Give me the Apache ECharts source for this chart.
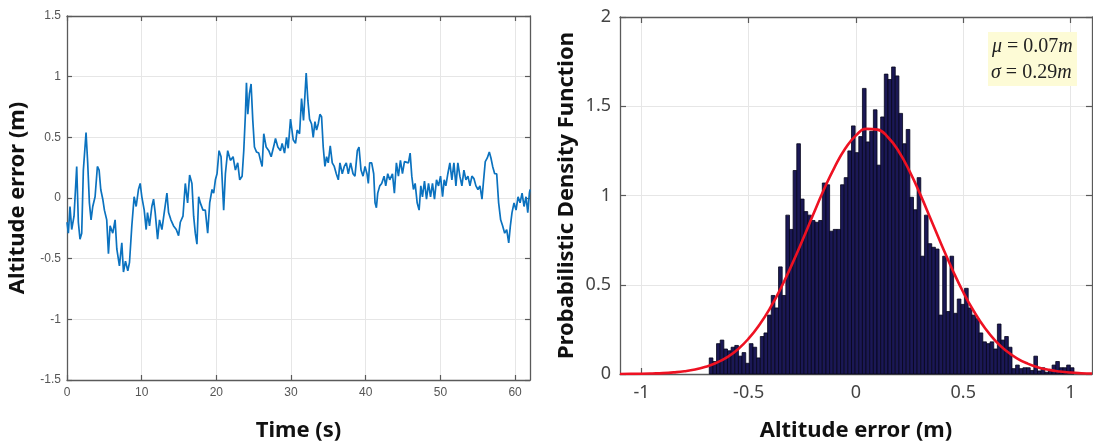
<!DOCTYPE html>
<html>
<head>
<meta charset="utf-8">
<title>Altitude error</title>
<script src="https://cdn.jsdelivr.net/npm/echarts@6/dist/echarts.min.js"></script>
<style>
  html, body { margin: 0; padding: 0; background: #ffffff; }
  #chart { width: 1093px; height: 447px; }
</style>
</head>
<body>
<div id="chart"></div>
<script>
// Altitude error over time (s)
const timeS = [
  0.00, 0.18, 0.40, 0.63, 0.94, 1.30, 1.52, 1.74, 1.97, 2.19, 2.55, 2.77, 3.00, 3.22, 3.45, 3.76,
  4.07, 4.30, 4.52, 4.79, 5.01, 5.32, 5.55, 5.77, 6.13, 6.44, 6.67, 7.02, 7.34, 7.56, 7.83, 8.14,
  8.37, 8.68, 8.99, 9.26, 9.57, 9.80, 10.02, 10.34, 10.60, 10.78, 11.05, 11.36, 11.59, 11.81, 12.13, 12.39,
  12.71, 13.02, 13.38, 13.60, 13.91, 14.27, 14.63, 14.94, 15.17, 15.53, 15.84, 16.15, 16.42, 16.73, 16.96, 17.18,
  17.40, 17.63, 17.85, 18.21, 18.52, 18.84, 19.11, 19.42, 19.64, 19.87, 20.09, 20.36, 20.63, 20.98, 21.21, 21.52,
  21.88, 22.24, 22.55, 22.86, 23.13, 23.45, 23.67, 23.89, 24.03, 24.21, 24.43, 24.65, 24.88, 25.10, 25.37, 25.68,
  25.91, 26.13, 26.35, 26.67, 27.02, 27.34, 27.70, 27.92, 28.23, 28.59, 28.81, 29.13, 29.40, 29.62, 29.93, 30.29,
  30.60, 30.82, 31.14, 31.41, 31.67, 32.03, 32.26, 32.48, 32.75, 32.97, 33.20, 33.42, 33.64, 33.87, 34.09, 34.31,
  34.54, 34.76, 34.98, 35.25, 35.52, 35.79, 36.06, 36.33, 36.55, 36.86, 37.13, 37.40, 37.67, 37.98, 38.30, 38.56,
  38.88, 39.10, 39.37, 39.64, 39.91, 40.17, 40.35, 40.53, 40.80, 41.07, 41.25, 41.43, 41.61, 41.88, 42.14, 42.46,
  42.68, 42.95, 43.22, 43.58, 43.84, 44.11, 44.38, 44.65, 44.92, 45.19, 45.45, 45.72, 45.95, 46.17, 46.39, 46.62,
  46.89, 47.15, 47.38, 47.60, 47.87, 48.14, 48.41, 48.68, 48.94, 49.21, 49.48, 49.75, 50.02, 50.29, 50.51, 50.73,
  51.00, 51.27, 51.54, 51.81, 52.08, 52.34, 52.61, 52.88, 53.15, 53.42, 53.69, 53.96, 54.22, 54.49, 54.76, 55.03,
  55.30, 55.57, 55.79, 56.01, 56.28, 56.55, 56.77, 57.00, 57.27, 57.54, 57.80, 58.07, 58.34, 58.61, 58.88, 59.15,
  59.37, 59.59, 59.86, 60.13, 60.40, 60.67, 60.94, 61.20, 61.47, 61.70, 61.92, 62.00
];
const altError = [
  -0.20, -0.29, -0.07, -0.26, -0.15, 0.26, -0.20, -0.34, -0.29, 0.23, 0.54, 0.29, -0.04, -0.18, -0.07, 0.01,
  0.26, 0.23, 0.07, -0.01, -0.10, -0.18, -0.46, -0.23, -0.29, -0.18, -0.42, -0.56, -0.37, -0.61, -0.52, -0.60,
  -0.53, -0.23, 0.01, -0.07, 0.07, 0.12, 0.01, -0.10, -0.26, -0.12, -0.23, -0.07, -0.01, -0.12, -0.34, -0.18,
  -0.26, -0.12, 0.04, -0.12, -0.18, -0.23, -0.26, -0.31, -0.20, -0.15, 0.12, -0.04, 0.19, 0.12, -0.15, -0.29,
  -0.38, 0.01, -0.04, -0.10, -0.10, -0.29, -0.04, 0.07, 0.04, 0.15, 0.20, 0.39, 0.34, -0.10, 0.20, 0.39,
  0.31, 0.34, 0.23, 0.29, 0.15, 0.18, 0.39, 0.69, 0.95, 0.69, 0.86, 0.94, 0.64, 0.42, 0.38, 0.37,
  0.31, 0.26, 0.53, 0.42, 0.39, 0.34, 0.43, 0.49, 0.42, 0.39, 0.45, 0.37, 0.50, 0.41, 0.65, 0.48,
  0.45, 0.56, 0.53, 0.82, 0.64, 1.03, 0.80, 0.65, 0.61, 0.50, 0.63, 0.56, 0.61, 0.69, 0.67, 0.42,
  0.26, 0.34, 0.29, 0.43, 0.29, 0.26, 0.20, 0.15, 0.29, 0.20, 0.26, 0.29, 0.20, 0.29, 0.20, 0.18,
  0.39, 0.42, 0.23, 0.18, 0.26, 0.20, 0.12, 0.29, 0.29, 0.20, -0.04, -0.08, 0.04, 0.10, 0.12, 0.18,
  0.10, 0.20, 0.15, 0.20, 0.04, 0.29, 0.18, 0.31, 0.20, 0.30, 0.31, 0.29, 0.37, 0.18, 0.07, 0.12,
  -0.04, -0.10, 0.10, 0.01, 0.14, -0.01, 0.12, 0.01, 0.12, -0.01, 0.15, 0.10, 0.18, 0.01, 0.15, 0.10,
  0.20, 0.29, 0.15, 0.29, 0.10, 0.29, 0.18, 0.10, 0.23, 0.15, 0.18, 0.10, 0.18, 0.16, 0.10, 0.07,
  0.10, -0.01, 0.15, 0.30, 0.33, 0.38, 0.33, 0.26, 0.20, 0.20, -0.04, -0.18, -0.23, -0.29, -0.26, -0.37,
  -0.23, -0.12, -0.04, -0.10, 0.01, -0.04, 0.04, -0.07, 0.01, -0.12, 0.04, 0.07
];

// Histogram of altitude error: 100 bins starting at binStart, each binWidth wide
const binStart = -0.684;
const binWidth = 0.017;
const pdfHist = [
  0.09, 0.07, 0.17, 0.19, 0.14, 0.13, 0.15, 0.16, 0.10, 0.12,
  0.06, 0.17, 0.15, 0.09, 0.21, 0.23, 0.33, 0.44, 0.37, 0.60,
  0.44, 0.89, 0.81, 1.14, 1.29, 0.98, 0.91, 0.89, 0.86, 0.85,
  0.86, 1.07, 1.06, 0.80, 0.81, 0.81, 1.06, 1.10, 1.25, 1.39,
  1.24, 1.33, 1.60, 1.30, 1.36, 1.48, 1.17, 1.44, 1.68, 1.65,
  1.72, 1.67, 1.46, 1.29, 1.37, 0.99, 0.92, 1.10, 0.66, 0.89,
  0.73, 0.71, 0.70, 0.33, 0.66, 0.35, 0.66, 0.34, 0.42, 0.39,
  0.48, 0.37, 0.33, 0.31, 0.23, 0.18, 0.17, 0.18, 0.14, 0.28,
  0.19, 0.21, 0.15, 0.03, 0.05, 0.03, 0.035, 0.035, 0.02, 0.10,
  0.017, 0.035, 0.01, 0.017, 0.05, 0.07, 0.035, 0.035, 0.05, 0.035
];

// Fitted normal density (mu = 0.07 m, sigma = 0.29 m)
const fitX = [
  -1.10, -1.05, -1.00, -0.95, -0.90, -0.85, -0.80, -0.75, -0.70, -0.65, -0.60, -0.55, -0.50, -0.45, -0.40,
  -0.35, -0.30, -0.25, -0.20, -0.15, -0.10, -0.05, 0.00, 0.05, 0.10, 0.15, 0.20, 0.25, 0.30, 0.35,
  0.40, 0.45, 0.50, 0.55, 0.60, 0.65, 0.70, 0.75, 0.80, 0.85, 0.90, 0.95, 1.00, 1.05, 1.10
];
const fitY = [
  0.0004, 0.0008, 0.0015, 0.003, 0.005, 0.009, 0.015, 0.025, 0.041, 0.063, 0.095, 0.139, 0.199, 0.276, 0.370,
  0.482, 0.610, 0.748, 0.892, 1.032, 1.158, 1.263, 1.337, 1.373, 1.369, 1.325, 1.245, 1.135, 1.005, 0.863,
  0.720, 0.583, 0.458, 0.350, 0.259, 0.186, 0.130, 0.088, 0.058, 0.037, 0.023, 0.014, 0.008, 0.0045, 0.0025
];

// Tick values
const timeTicks = [0, 10, 20, 30, 40, 50, 60];
const errTicks = [-1.5, -1, -0.5, 0, 0.5, 1, 1.5];
const histXTicks = [-1, -0.5, 0, 0.5, 1];
const pdfTicks = [0, 0.5, 1, 1.5, 2];

const frameColor = '#5a5a5a';
const gridColor = '#e6e6e6';
const titleFont = { fontFamily: 'Noto Sans', fontWeight: 'bold', fontSize: 22, color: '#111' };

function frameAxis(extra) {
  return Object.assign({
    type: 'value',
    axisLine: { show: true, onZero: false, lineStyle: { color: frameColor, width: 1.3 } },
    axisTick: { show: true, inside: true, length: 5, lineStyle: { color: frameColor, width: 1.2 } },
    axisLabel: { show: false },
    splitLine: { show: false }
  }, extra);
}

const chart = echarts.init(document.getElementById('chart'), null, { renderer: 'canvas' });

const histData = pdfHist.map((d, i) => [binStart + i * binWidth, binStart + (i + 1) * binWidth, d]);

chart.setOption({
  animation: false,
  backgroundColor: '#ffffff',
  grid: [
    { left: 67, top: 16, width: 463, height: 368 },
    { left: 620, top: 17, width: 472, height: 361 }
  ],
  xAxis: [
    frameAxis({
      gridIndex: 0, min: 0, max: 62, position: 'bottom',
      name: 'Time (s)', nameLocation: 'middle', nameGap: 40, nameTextStyle: titleFont,
      axisTick: { show: true, inside: true, length: 5, customValues: timeTicks, lineStyle: { color: frameColor, width: 1.2 } },
      axisLabel: { show: true, customValues: timeTicks, fontFamily: 'Liberation Sans', fontSize: 12, color: '#555', margin: 7 },
      splitLine: { show: true, lineStyle: { color: gridColor, width: 1 } }
    }),
    frameAxis({
      gridIndex: 0, min: 0, max: 62, position: 'top',
      axisTick: { show: true, inside: true, length: 5, customValues: timeTicks, lineStyle: { color: frameColor, width: 1.2 } }
    }),
    frameAxis({
      gridIndex: 1, min: -1.1, max: 1.1, position: 'bottom',
      name: 'Altitude error (m)', nameLocation: 'middle', nameGap: 46, nameTextStyle: titleFont,
      axisTick: { show: true, inside: true, length: 6, customValues: histXTicks, lineStyle: { color: frameColor, width: 1.2 } },
      axisLabel: { show: true, customValues: histXTicks, fontFamily: 'Noto Sans', fontSize: 18, color: '#444', margin: 10,
        formatter: v => String(v) },
      splitLine: { show: true, lineStyle: { color: gridColor, width: 1 } }
    }),
    frameAxis({
      gridIndex: 1, min: -1.1, max: 1.1, position: 'top',
      axisTick: { show: true, inside: true, length: 6, customValues: histXTicks, lineStyle: { color: frameColor, width: 1.2 } }
    })
  ],
  yAxis: [
    frameAxis({
      gridIndex: 0, min: -1.5, max: 1.5, position: 'left',
      name: 'Altitude error (m)', nameLocation: 'middle', nameGap: 38, nameTextStyle: titleFont,
      axisTick: { show: true, inside: true, length: 5, customValues: errTicks, lineStyle: { color: frameColor, width: 1.2 } },
      axisLabel: { show: true, customValues: errTicks, fontFamily: 'Liberation Sans', fontSize: 12, color: '#555', margin: 6,
        formatter: v => String(v) },
      splitLine: { show: true, lineStyle: { color: gridColor, width: 1 } }
    }),
    frameAxis({
      gridIndex: 0, min: -1.5, max: 1.5, position: 'right',
      axisTick: { show: true, inside: true, length: 5, customValues: errTicks, lineStyle: { color: frameColor, width: 1.2 } }
    }),
    frameAxis({
      gridIndex: 1, min: 0, max: 2, position: 'left',
      name: 'Probabilistic Density Function', nameLocation: 'middle', nameGap: 42, nameTextStyle: titleFont,
      axisTick: { show: true, inside: true, length: 6, customValues: pdfTicks, lineStyle: { color: frameColor, width: 1.2 } },
      axisLabel: { show: true, customValues: pdfTicks, fontFamily: 'Noto Sans', fontSize: 18, color: '#444', margin: 9,
        formatter: v => String(v) },
      splitLine: { show: true, lineStyle: { color: gridColor, width: 1 } }
    }),
    frameAxis({
      gridIndex: 1, min: 0, max: 2, position: 'right',
      axisTick: { show: true, inside: true, length: 6, customValues: pdfTicks, lineStyle: { color: frameColor, width: 1.2 } }
    })
  ],
  series: [
    {
      type: 'line',
      xAxisIndex: 0, yAxisIndex: 0,
      data: timeS.map((t, i) => [t, altError[i]]),
      showSymbol: false,
      lineStyle: { color: '#0b72bf', width: 1.7 },
      z: 3
    },
    {
      type: 'custom',
      xAxisIndex: 2, yAxisIndex: 2,
      data: histData,
      encode: { x: [0, 1], y: 2 },
      renderItem: (params, api) => {
        const topLeft = api.coord([api.value(0), api.value(2)]);
        const bottomRight = api.coord([api.value(1), 0]);
        return {
          type: 'rect',
          shape: {
            x: topLeft[0], y: topLeft[1],
            width: bottomRight[0] - topLeft[0],
            height: bottomRight[1] - topLeft[1]
          },
          style: { fill: '#1b1855', stroke: '#05051a', lineWidth: 0.8 }
        };
      },
      z: 2
    },
    {
      type: 'line',
      xAxisIndex: 2, yAxisIndex: 2,
      data: fitX.map((x, i) => [x, fitY[i]]),
      smooth: true,
      showSymbol: false,
      lineStyle: { color: '#ee1122', width: 2.6 },
      z: 4
    }
  ],
  graphic: [
    {
      type: 'rect',
      shape: { x: 988, y: 32, width: 89, height: 54 },
      style: { fill: '#fdfbd6' },
      z: 10
    },
    {
      type: 'text',
      x: 992, y: 47,
      style: {
        text: '{i|μ}{n| = 0.07}{i|m}',
        verticalAlign: 'middle',
        rich: {
          i: { fontFamily: 'Liberation Serif', fontStyle: 'italic', fontSize: 20, fill: '#222' },
          n: { fontFamily: 'Liberation Serif', fontSize: 20, fill: '#222' }
        }
      },
      z: 11
    },
    {
      type: 'text',
      x: 991, y: 73,
      style: {
        text: '{i|σ}{n| = 0.29}{i|m}',
        verticalAlign: 'middle',
        rich: {
          i: { fontFamily: 'Liberation Serif', fontStyle: 'italic', fontSize: 20, fill: '#222' },
          n: { fontFamily: 'Liberation Serif', fontSize: 20, fill: '#222' }
        }
      },
      z: 11
    }
  ]
});
</script>
</body>
</html>
